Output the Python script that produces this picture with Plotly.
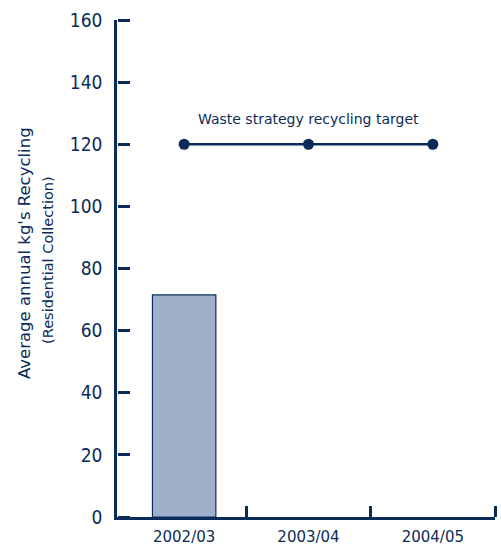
import plotly.graph_objects as go

# Reporting years and values
years = ["2002/03", "2003/04", "2004/05"]
recycling_kg = [71.5, None, None]
target_kg = [120, 120, 120]
y_max = 160
y_step = 20

NAVY = "#0b2c58"
FONT = "DejaVu Sans"
DIGITS = "DejaVu Sans Condensed"

# numeric positions of the category boundaries (ticks sit between years)
x_range = [-0.54, len(years) - 0.5]
boundaries = [i + 0.5 for i in range(len(years))]

fig = go.Figure()

fig.add_trace(go.Bar(
    x=years, y=recycling_kg, width=0.51,
    marker=dict(color="#a0b0ca", line=dict(color=NAVY, width=1.2)),
    showlegend=False, hoverinfo="skip",
))

fig.add_trace(go.Scatter(
    x=years, y=target_kg, mode="lines+markers",
    line=dict(color=NAVY, width=2.5),
    marker=dict(color=NAVY, size=11),
    showlegend=False, hoverinfo="skip",
))

fig.add_annotation(
    x=years[1], y=target_kg[1], yshift=25, text="Waste strategy recycling target",
    showarrow=False, font=dict(family=FONT, size=14, color=NAVY),
)

# Two-line vertical axis title
fig.add_annotation(
    xref="paper", yref="paper", x=-0.246, y=0.531, xanchor="center", yanchor="middle",
    text="Average annual kg's Recycling", textangle=-90, showarrow=False,
    font=dict(family=FONT, size=16.5, color=NAVY),
)
fig.add_annotation(
    xref="paper", yref="paper", x=-0.183, y=0.517, xanchor="center", yanchor="middle",
    text="(Residential Collection)", textangle=-90, showarrow=False,
    font=dict(family=FONT, size=14.5, color=NAVY),
)

tick_style = dict(ticklen=11, tickwidth=2.5, tickcolor=NAVY)

fig.update_layout(
    width=501, height=547,
    margin=dict(l=117, r=6, t=20, b=30),
    paper_bgcolor="white", plot_bgcolor="white",
    font=dict(family=FONT, color=NAVY),
    xaxis=dict(
        type="category", range=x_range, automargin=False,
        ticks="", showline=True, linecolor=NAVY, linewidth=2.5,
        showgrid=False, zeroline=False, ticklabelstandoff=4,
        tickfont=dict(family=FONT, size=15, color=NAVY),
    ),
    # companion axis at the bottom edge whose ticks point up into the plot
    xaxis2=dict(
        overlaying="x", anchor="free", position=0, side="top", range=x_range,
        tickmode="array", tickvals=boundaries, showticklabels=False,
        ticks="outside", automargin=False, **tick_style,
        showline=False, showgrid=False, zeroline=False,
    ),
    yaxis=dict(
        range=[0, y_max], tickmode="linear", tick0=0, dtick=y_step, automargin=False,
        ticks="", showline=True, linecolor=NAVY, linewidth=2.5,
        showgrid=False, zeroline=False, ticklabelstandoff=8,
        tickfont=dict(family=DIGITS, size=19, color=NAVY),
    ),
    # companion axis at the left edge whose ticks point right into the plot
    yaxis2=dict(
        overlaying="y", anchor="free", position=0, side="right", automargin=False,
        range=[0, y_max], tickmode="linear", tick0=0, dtick=y_step,
        showticklabels=False, ticks="outside", ticklen=12, tickwidth=2.5, tickcolor=NAVY,
        showline=False, showgrid=False, zeroline=False,
    ),
)

# empty traces so the companion axes are drawn
fig.add_trace(go.Scatter(
    x=boundaries, y=[None] * len(boundaries), xaxis="x2", yaxis="y",
    mode="markers", showlegend=False, hoverinfo="skip",
))
fig.add_trace(go.Scatter(
    x=years, y=[None] * len(years), xaxis="x", yaxis="y2",
    mode="markers", showlegend=False, hoverinfo="skip",
))

fig.write_html("out.html")
